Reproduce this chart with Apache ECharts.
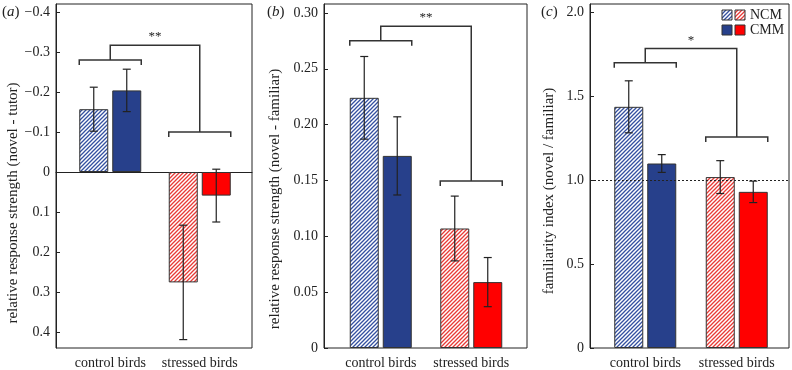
<!DOCTYPE html>
<html>
<head>
<meta charset="utf-8">
<script src="https://cdn.jsdelivr.net/npm/echarts@6/dist/echarts.min.js"></script>
<style>
  html, body { margin: 0; padding: 0; background: #fff; }
  #chart { width: 792px; height: 370px; }
</style>
</head>
<body>
<div id="chart"></div>
<script>
// categories
const groups = ['control birds', 'stressed birds']

// (a) relative response strength (novel - tutor), axis drawn inverted
const ncmA = [-0.157, 0.276]
const ncmErrA = [0.055, 0.143]
const cmmA = [-0.204, 0.059]
const cmmErrA = [0.053, 0.066]
const ticksA = [-0.4, -0.3, -0.2, -0.1, 0, 0.1, 0.2, 0.3, 0.4]
const bracketA = [-0.28, -0.1, -0.317] // control, stressed, top
const starsA = '**'

// (b) relative response strength (novel - familiar)
const ncmB = [0.224, 0.107]
const ncmErrB = [0.037, 0.029]
const cmmB = [0.172, 0.059]
const cmmErrB = [0.035, 0.022]
const ticksB = [0, 0.05, 0.10, 0.15, 0.20, 0.25, 0.30]
const bracketB = [0.275, 0.1495, 0.288]
const starsB = '**'

// (c) familiarity index (novel / familiar)
const ncmC = [1.438, 1.019]
const ncmErrC = [0.155, 0.098]
const cmmC = [1.100, 0.931]
const cmmErrC = [0.053, 0.064]
const ticksC = [0, 0.5, 1.0, 1.5, 2.0]
const bracketC = [1.701, 1.258, 1.785]
const starsC = '*'
const refLineC = 1.0

const FONT = 'Liberation Serif'
const INK = '#222'
const BLUE = '#27408b'
const RED = '#ff0000'
const BAR_W = 29
const BAR_GAP = 4

function hatch (color) {
  const c = document.createElement('canvas')
  c.width = 4
  c.height = 4
  const ctx = c.getContext('2d')
  ctx.fillStyle = '#fff'
  ctx.fillRect(0, 0, 4, 4)
  ctx.strokeStyle = color
  ctx.lineWidth = 1.3
  ctx.beginPath()
  ctx.moveTo(-1, 5); ctx.lineTo(5, -1)
  ctx.moveTo(-1, 1); ctx.lineTo(1, -1)
  ctx.moveTo(3, 5); ctx.lineTo(5, 3)
  ctx.stroke()
  return { image: c, repeat: 'repeat' }
}
const blueHatch = hatch('#3450a0')
const redHatch = hatch('#e83a36')

function fmt (d) {
  return function (v) {
    if (Math.abs(v) < 1e-9) return '0'
    return (v < 0 ? '\u2212' : '') + Math.abs(v).toFixed(d)
  }
}

// frame grids (0..2) carry the y scale + border, bar grids (3..5) carry the categories
const frames = [
  { left: 56, width: 196 },
  { left: 324, width: 203 },
  { left: 590, width: 199 }
]
const barGrids = [
  { left: 65.5, width: 179 },
  { left: 335.5, width: 181 },
  { left: 599.5, width: 183 }
]
const scales = [
  { min: -0.42, max: 0.44, inverse: true, ticks: ticksA, dec: 1, name: 'relative response strength (novel - tutor)', gap: 33, shift: 54 },
  { min: 0, max: 0.308, inverse: false, ticks: ticksB, dec: 2, name: 'relative response strength (novel - familiar)', gap: 41, shift: 46 },
  { min: 0, max: 2.051, inverse: false, ticks: ticksC, dec: 1, name: 'familiarity index (novel / familiar)', gap: 33, shift: 30 }
]
const panels = [
  { ncm: ncmA, ncmErr: ncmErrA, cmm: cmmA, cmmErr: cmmErrA, bracket: bracketA, stars: starsA },
  { ncm: ncmB, ncmErr: ncmErrB, cmm: cmmB, cmmErr: cmmErrB, bracket: bracketB, stars: starsB },
  { ncm: ncmC, ncmErr: ncmErrC, cmm: cmmC, cmmErr: cmmErrC, bracket: bracketC, stars: starsC }
]

const grid = []
const xAxis = []
const yAxis = []
const series = []

frames.forEach((f, i) => {
  grid.push({ left: f.left, top: 4, width: f.width, height: 344, show: true, borderColor: INK, borderWidth: 1 })
  xAxis.push({
    gridIndex: i, type: 'value', min: 0, max: 1,
    axisLine: { show: i === 0, onZero: true, lineStyle: { color: INK, width: 1 } },
    axisTick: { show: false }, axisLabel: { show: false }, splitLine: { show: false }
  })
  const s = scales[i]
  yAxis.push({
    gridIndex: i, type: 'value', min: s.min, max: s.max, inverse: s.inverse,
    axisLine: { show: true, lineStyle: { color: INK, width: 1 } },
    axisTick: { show: true, inside: true, length: 4, customValues: s.ticks, lineStyle: { color: INK } },
    axisLabel: { customValues: s.ticks, formatter: fmt(s.dec), margin: 6, color: INK, fontSize: 14, fontFamily: FONT },
    splitLine: { show: false },
    name: s.name, nameLocation: 'middle', nameGap: s.gap,
    nameTextStyle: { color: INK, fontSize: 15, fontFamily: FONT, padding: [0, s.shift, 0, 0] }
  })
})

barGrids.forEach((g, i) => {
  const s = scales[i]
  grid.push({ left: g.left, top: 4, width: g.width, height: 344 })
  xAxis.push({
    gridIndex: i + 3, type: 'category', data: groups,
    axisLine: { show: false, onZero: false }, axisTick: { show: false },
    axisLabel: { interval: 0, color: INK, fontSize: 14, fontFamily: FONT, margin: 8 }
  })
  yAxis.push({ gridIndex: i + 3, type: 'value', min: s.min, max: s.max, inverse: s.inverse, show: false })
})

function errorSeries (gi, vals, errs, side) {
  return {
    type: 'custom', xAxisIndex: gi, yAxisIndex: gi, z: 5, silent: true,
    data: vals.map((v, k) => [k, v, errs[k]]),
    renderItem (params, api) {
      const k = api.value(0)
      const v = api.value(1)
      const e = api.value(2)
      const a = api.coord([k, v - e])
      const b = api.coord([k, v + e])
      const x = a[0] + side * (BAR_W + BAR_GAP) / 2
      const st = { stroke: INK, lineWidth: 1.2 }
      return {
        type: 'group',
        children: [
          { type: 'line', shape: { x1: x, y1: a[1], x2: x, y2: b[1] }, style: st },
          { type: 'line', shape: { x1: x - 4, y1: a[1], x2: x + 4, y2: a[1] }, style: st },
          { type: 'line', shape: { x1: x - 4, y1: b[1], x2: x + 4, y2: b[1] }, style: st }
        ]
      }
    }
  }
}

function bracketSeries (gi, br, stars) {
  return {
    type: 'custom', xAxisIndex: gi, yAxisIndex: gi, z: 6, silent: true,
    data: [[0, br[0], br[1], br[2]]],
    renderItem (params, api) {
      const c0 = api.coord([0, api.value(1)])
      const c1 = api.coord([1, api.value(2)])
      const t = api.coord([0, api.value(3)])
      const half = BAR_W + BAR_GAP / 2
      const tail = 5
      const st = { stroke: '#333', lineWidth: 1.5, fill: null }
      const br = (c) => ({
        type: 'polyline',
        shape: { points: [[c[0] - half, c[1] + tail], [c[0] - half, c[1]], [c[0] + half, c[1]], [c[0] + half, c[1] + tail]] },
        style: st
      })
      return {
        type: 'group',
        children: [
          br(c0),
          br(c1),
          { type: 'polyline', shape: { points: [[c0[0], c0[1]], [c0[0], t[1]], [c1[0], t[1]], [c1[0], c1[1]]] }, style: st },
          {
            type: 'text',
            style: { text: stars, x: (c0[0] + c1[0]) / 2, y: t[1] - 2, align: 'center', verticalAlign: 'bottom', fill: INK, font: '13px ' + FONT }
          }
        ]
      }
    }
  }
}

panels.forEach((p, i) => {
  const gi = i + 3
  series.push({
    name: 'NCM', type: 'bar', xAxisIndex: gi, yAxisIndex: gi, barWidth: BAR_W, barGap: (BAR_GAP / BAR_W * 100) + '%',
    data: p.ncm.map((v, k) => ({ value: v, itemStyle: { color: k === 0 ? blueHatch : redHatch } })),
    itemStyle: { borderColor: '#333', borderWidth: 1 }
  })
  series.push({
    name: 'CMM', type: 'bar', xAxisIndex: gi, yAxisIndex: gi, barWidth: BAR_W,
    data: p.cmm.map((v, k) => ({ value: v, itemStyle: { color: k === 0 ? BLUE : RED } })),
    itemStyle: { borderColor: '#333', borderWidth: 1 }
  })
  series.push(errorSeries(gi, p.ncm, p.ncmErr, -1))
  series.push(errorSeries(gi, p.cmm, p.cmmErr, 1))
  series.push(bracketSeries(gi, p.bracket, p.stars))
})

// dotted reference line at 1.0 in panel (c)
series.push({
  type: 'line', xAxisIndex: 2, yAxisIndex: 2, data: [], silent: true,
  markLine: {
    silent: true, symbol: ['none', 'none'], label: { show: false },
    lineStyle: { color: INK, type: [2, 2], width: 1.2 },
    data: [{ yAxis: refLineC }]
  }
})

const panelLetter = (txt, x) => ({
  type: 'text', left: x, top: 5,
  style: {
    text: '(' + '{i|' + txt + '})', font: '15px ' + FONT, fill: INK,
    rich: { i: { fontStyle: 'italic', fontSize: 15, fontFamily: FONT } }
  }
})

const legendBox = (x, y, fill) => ({
  type: 'rect', shape: { x: x, y: y, width: 10, height: 10 },
  style: { fill: fill, stroke: '#333', lineWidth: 1 }
})

const option = {
  animation: false,
  backgroundColor: '#fff',
  grid: grid,
  xAxis: xAxis,
  yAxis: yAxis,
  series: series,
  graphic: [
    panelLetter('a', 2),
    panelLetter('b', 267),
    panelLetter('c', 541),
    legendBox(722, 10, blueHatch),
    legendBox(735, 10, redHatch),
    legendBox(722, 25, BLUE),
    legendBox(735, 25, RED),
    { type: 'text', left: 750, top: 8, style: { text: 'NCM', font: '14px ' + FONT, fill: INK } },
    { type: 'text', left: 750, top: 23, style: { text: 'CMM', font: '14px ' + FONT, fill: INK } }
  ]
}

var myChart = echarts.init(document.getElementById('chart'))
myChart.setOption(option)
window.addEventListener('resize', function () {
  myChart.resize()
})
</script>
</body>
</html>
